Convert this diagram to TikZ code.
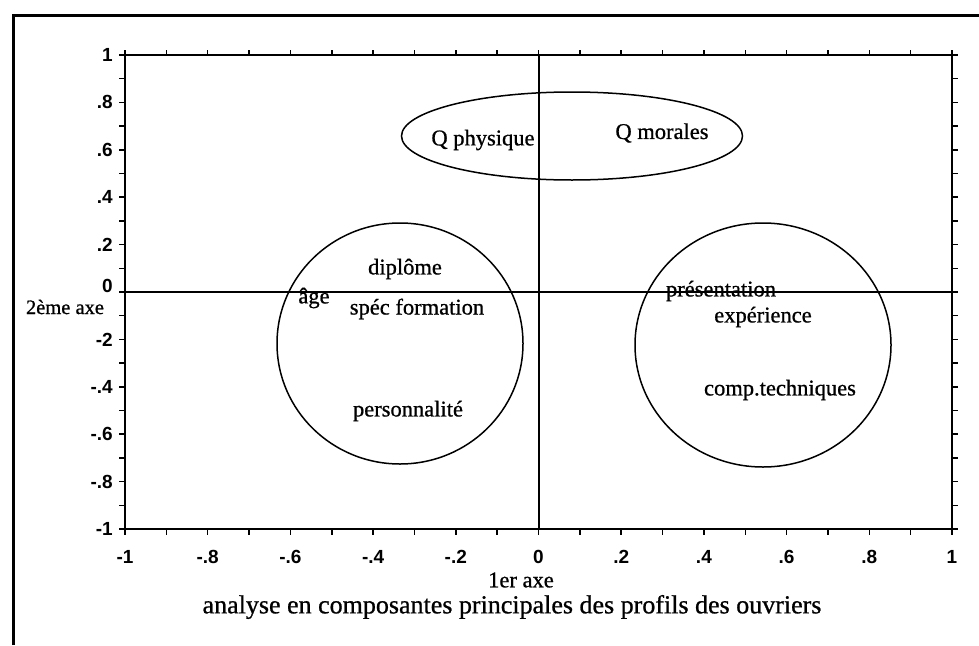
\documentclass[tikz,border=0pt]{standalone}
\usepackage{fontspec}
\setmainfont{Liberation Serif}[BoldFont=Liberation Serif, BoldFeatures={FakeBold=0.8}]
\setsansfont{Liberation Sans}
\usetikzlibrary{shapes.geometric}
\begin{document}
\begin{tikzpicture}[x=1pt,y=-1pt,
  lbl/.style={font=\bfseries\fontsize{22.5}{24}\selectfont, inner sep=0pt},
  ticklbl/.style={font=\sffamily\bfseries\fontsize{19}{20}\selectfont, inner sep=0pt},
  grp/.style={draw, ellipse, line width=1.5pt, inner sep=0pt, outer sep=0pt},
  frame/.style={line width=3pt},
  axisbox/.style={line width=2.5pt},
  zeroline/.style={line width=2pt},
  tickmark/.style={line width=1.5pt}]
\useasboundingbox (0,0) rectangle (979,645);
% outer frame (cropped)
\draw[frame] (13,645) -- (13,15) -- (979,15);
% plot box
\coordinate (bl) at (125,529);
\coordinate (tr) at (952,55);
\draw[axisbox] (bl) rectangle (tr);
% zero lines
\coordinate (xl) at (125,292);
\coordinate (xr) at (952,292);
\coordinate (yt) at (538.5,55);
\coordinate (yb) at (538.5,529);
\draw[zeroline] (xl) -- (xr);
\draw[zeroline] (yt) -- (yb);
% ticks
\foreach \i in {0,...,20}{
  \pgfmathsetmacro{\tx}{125+\i*41.35}
  \pgfmathsetmacro{\ty}{55+\i*23.7}
  \draw[tickmark] (\tx,529) -- (\tx,535);
  \draw[tickmark] (\tx,55) -- (\tx,50);
  \draw[tickmark] (125,\ty) -- (119,\ty);
  \draw[tickmark] (952,\ty) -- (958,\ty);
}
% x tick labels
\foreach \v/\t [count=\k] in {-1/-1,-0.8/-.8,-0.6/-.6,-0.4/-.4,-0.2/-.2,0/0,0.2/.2,0.4/.4,0.6/.6,0.8/.8,1/1}{
  \node[ticklbl] (xt\k) at ({538.5+413.5*\v},557) {\t};
}
% y tick labels
\foreach \v/\t [count=\k] in {1/1,0.8/.8,0.6/.6,0.4/.4,0.2/.2,-0.2/-2,-0.4/-.4,-0.6/-.6,-0.8/-.8,-1/-1}{
  \node[ticklbl, anchor=east] (yt\k) at (113,{292-237*\v}) {\t};
}
\node[ticklbl, anchor=east] (yzero) at (113,286) {0};
% axis titles
\node[lbl, font=\bfseries\fontsize{20.5}{22}\selectfont] (ax2) at (65,307) {2ème axe};
\node[lbl] (ax1) at (521,580) {1er axe};
\node[lbl, font=\bfseries\fontsize{26}{28}\selectfont] (title) at (512,607) {analyse en composantes principales des profils des ouvriers};
% groups
\node[grp, minimum width=341pt, minimum height=88pt] (gq) at (572,136) {};
\node[grp, minimum width=246pt, minimum height=241pt] (gl) at (400,343.5) {};
\node[grp, minimum width=256pt, minimum height=244pt] (gr) at (763,345) {};
% variable labels
\node[lbl] (qp) at (483,140) {Q physique};
\node[lbl] (qm) at (662,133) {Q morales};
\node[lbl] (dip) at (405,269) {diplôme};
\node[lbl] (age) at (314,298) {âge};
\node[lbl] (spec) at (417,309) {spéc formation};
\node[lbl] (pers) at (408,411) {personnalité};
\node[lbl] (pres) at (721,291) {présentation};
\node[lbl] (exp) at (763,317) {expérience};
\node[lbl] (comp) at (780,390) {comp.techniques};
\end{tikzpicture}
\end{document}
